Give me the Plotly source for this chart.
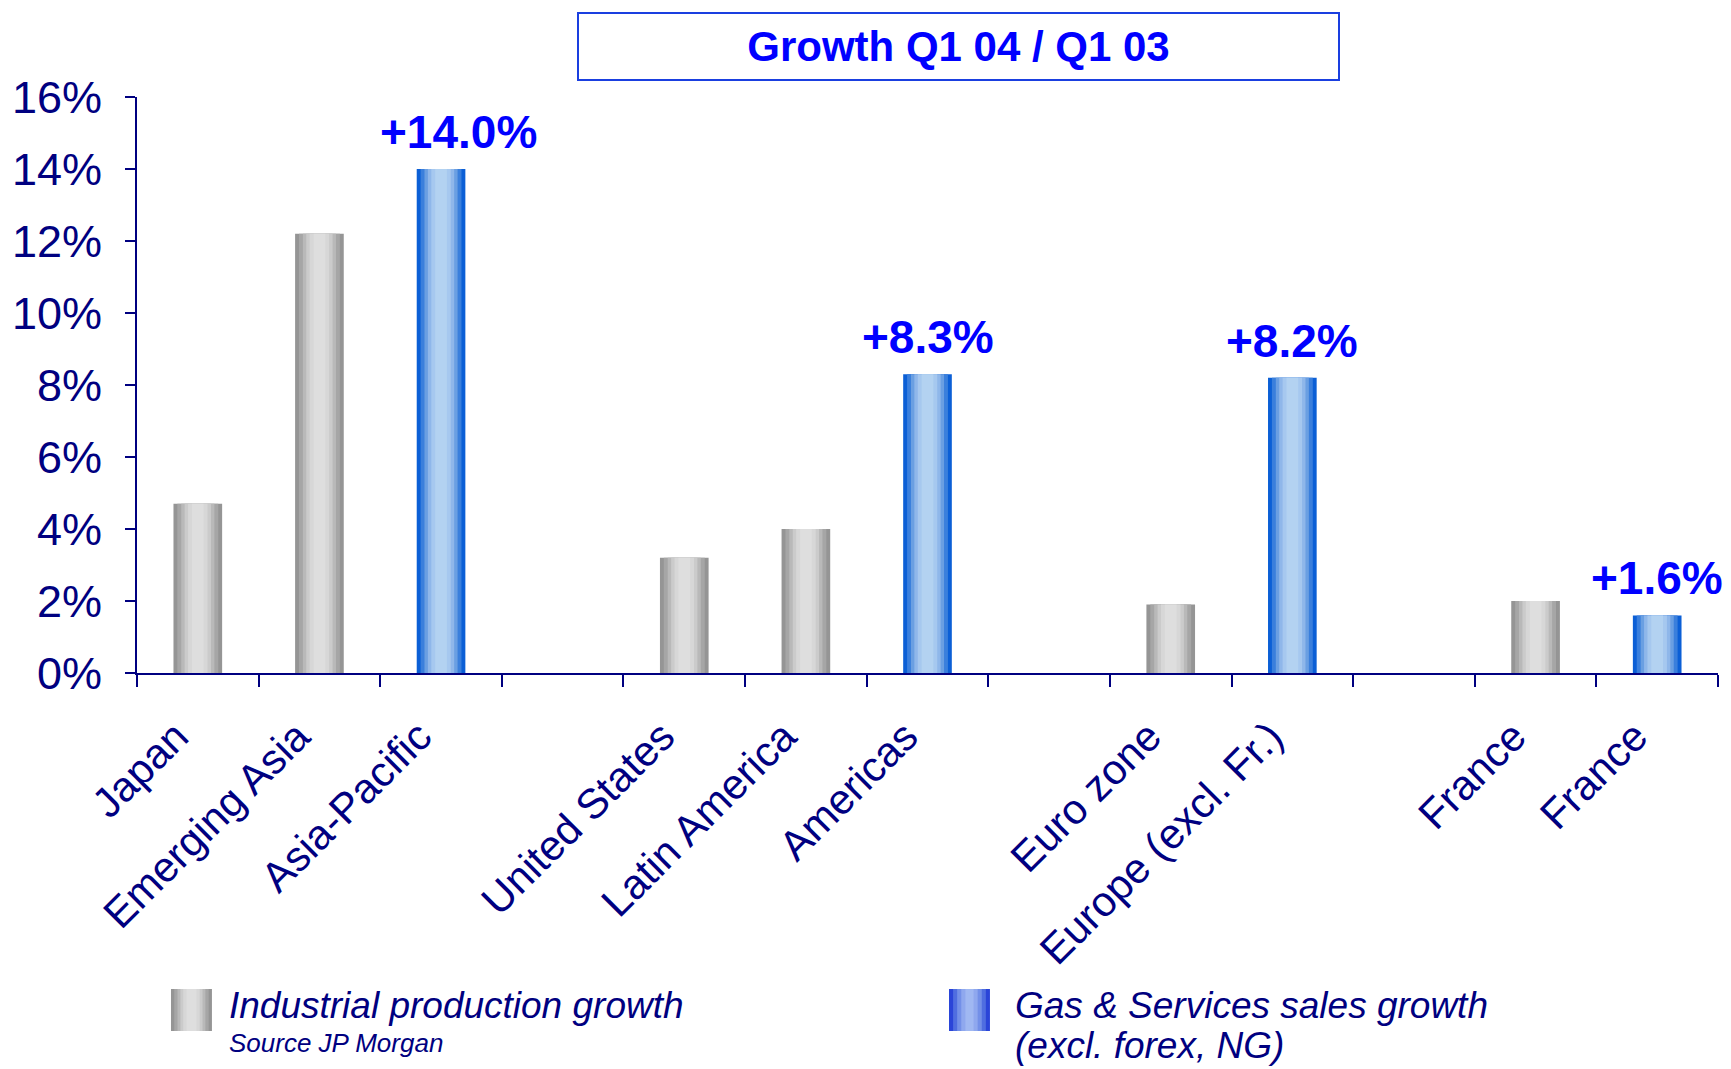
import plotly.graph_objects as go

categories = ["Japan", "Emerging Asia", "Asia-Pacific", "",
              "United States", "Latin America", "Americas", "",
              "Euro zone", "Europe (excl. Fr.)", "",
              "France", "France"]
industrial = [4.7, 12.2, None, None, 3.2, 4.0, None, None, 1.9, None, None, 2.0, None]
gas_services = [None, None, 14.0, None, None, None, 8.3, None, None, 8.2, None, None, 1.6]
y_ticks = [0, 2, 4, 6, 8, 10, 12, 14, 16]

NAVY = "#000080"
BLUE = "#0000FF"
FONT = "Liberation Sans, Arial, sans-serif"
BAR_W = 0.4
LABEL_SHIFT = 0.18  # rotated category labels sit slightly left of the bar centre

gray_layers = [(1.0, "#959595"), (0.84, "#a6a6a6"), (0.68, "#b9b9b9"),
               (0.54, "#cbcbcb"), (0.40, "#d7d7d7"), (0.24, "#dedede")]
blue_layers = [(1.0, "#0b5fd6"), (0.84, "#3a7fdc"), (0.68, "#6a9fe2"),
               (0.54, "#8fb7ea"), (0.40, "#a6c8ef"), (0.24, "#b3d2f1")]

x_pos = list(range(len(categories)))

fig = go.Figure()
for vals, layers in ((industrial, gray_layers), (gas_services, blue_layers)):
    xs = [x for x, v in zip(x_pos, vals) if v is not None]
    ys = [v for v in vals if v is not None]
    for frac, col in layers:
        fig.add_trace(go.Bar(x=xs, y=ys, width=BAR_W * frac, marker_color=col,
                             marker_line_width=0, showlegend=False, hoverinfo="skip"))

annotations = []
first = True
for x, v in zip(x_pos, gas_services):
    if v is not None:
        annotations.append(dict(x=x, y=v, xref="x", yref="y", text=f"<b>+{v:.1f}%</b>",
                                showarrow=False, yanchor="bottom", xanchor="center", yshift=9,
                                xshift=17 if first else 0,
                                font=dict(family=FONT, size=46, color=BLUE)))
        first = False

# Title box
annotations.append(dict(x=0.5196, y=1.0877, xref="paper", yref="paper",
                        text="<b>Growth Q1 04 / Q1 03</b>", showarrow=False,
                        xanchor="center", yanchor="middle", width=757, height=63,
                        bordercolor="#1a3fe0", borderwidth=2, borderpad=1,
                        font=dict(family=FONT, size=42, color=BLUE)))

# Legend texts
annotations += [
    dict(x=0.0569, y=-0.578, xref="paper", yref="paper", text="<i>Industrial production growth</i>",
         showarrow=False, xanchor="left", yanchor="middle", font=dict(family=FONT, size=37, color=NAVY)),
    dict(x=0.0569, y=-0.642, xref="paper", yref="paper", text="<i>Source JP Morgan</i>",
         showarrow=False, xanchor="left", yanchor="middle", font=dict(family=FONT, size=26, color=NAVY)),
    dict(x=0.554, y=-0.578, xref="paper", yref="paper", text="<i>Gas & Services sales growth</i>",
         showarrow=False, xanchor="left", yanchor="middle", font=dict(family=FONT, size=37, color=NAVY)),
    dict(x=0.554, y=-0.647, xref="paper", yref="paper", text="<i>(excl. forex, NG)</i>",
         showarrow=False, xanchor="left", yanchor="middle", font=dict(family=FONT, size=37, color=NAVY)),
]

# Legend swatches (gradient approximated by nested rectangles)
shapes = []
def swatch(x0, x1, y0, y1, layers):
    cx = (x0 + x1) / 2
    hw = (x1 - x0) / 2
    for frac, col in layers:
        shapes.append(dict(type="rect", xref="paper", yref="paper",
                           x0=cx - hw * frac, x1=cx + hw * frac, y0=y0, y1=y1,
                           fillcolor=col, line_width=0))

swatch(0.0215, 0.0474, -0.6215, -0.5486, gray_layers)
swatch(0.5136, 0.5395, -0.6215, -0.5486, [(1.0, "#2a45d8"), (0.8, "#4f6ee0"), (0.6, "#7390e8"),
                                          (0.4, "#8fa8ee"), (0.2, "#a0b8f2")])

fig.update_layout(
    width=1723, height=1061,
    margin=dict(l=129, r=13, t=89, b=396, autoexpand=False),
    barmode="overlay",
    plot_bgcolor="white", paper_bgcolor="white",
    showlegend=False,
    annotations=annotations,
    shapes=shapes,
    font=dict(family=FONT, color=NAVY),
    xaxis=dict(
        range=[-0.5, len(categories) - 0.5], automargin=False,
        tickmode="array", tickvals=[x - LABEL_SHIFT for x in x_pos], ticktext=categories,
        ticks="", tickangle=-45, ticklabelstandoff=20,
        tickfont=dict(family=FONT, size=42, color=NAVY),
        showline=True, linecolor=NAVY, linewidth=2,
        showgrid=False, zeroline=False,
        minor=dict(tickmode="linear", tick0=-0.5, dtick=1, ticks="outside",
                   ticklen=12, tickwidth=2, tickcolor=NAVY, showgrid=False),
    ),
    yaxis=dict(
        range=[0, 16], tickmode="array", tickvals=y_ticks, automargin=False,
        ticktext=[f"{v}%" for v in y_ticks],
        ticks="outside", ticklen=10, tickwidth=2, tickcolor=NAVY,
        ticklabelstandoff=14,
        tickfont=dict(family=FONT, size=45, color=NAVY),
        showline=True, linecolor=NAVY, linewidth=2,
        showgrid=False, zeroline=False,
    ),
)

fig.write_html("out.html")
